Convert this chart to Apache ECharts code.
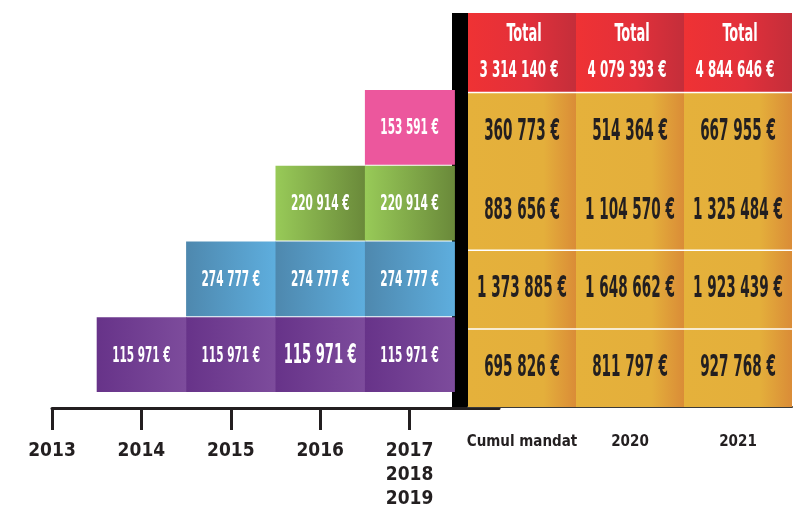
<!DOCTYPE html>
<html>
<head>
<meta charset="utf-8">
<script src="https://cdn.jsdelivr.net/npm/echarts@6/dist/echarts.min.js"></script>
<style>
  html, body { margin: 0; padding: 0; background: #fff; }
  #main { width: 804px; height: 512px; }
</style>
</head>
<body>
<div id="main"></div>
<script>
var fontFamily = "'DejaVu Sans Condensed', 'Liberation Sans', sans-serif";

// staircase on the left, one array per band (bottom band first), indexed by year
var years = ['2013', '2014', '2015', '2016', '2017\n2018\n2019', ''];
var purpleByYear = [null, 115971, 115971, 115971, 115971];
var blueByYear = [null, null, 274777, 274777, 274777];
var greenByYear = [null, null, null, 220914, 220914];
var pinkByYear = [null, null, null, null, 153591];

// table on the right
var tableColumns = ['Cumul mandat', '2020', '2021'];
var purpleTotals = [695826, 811797, 927768];
var blueTotals = [1373885, 1648662, 1923439];
var greenTotals = [883656, 1104570, 1325484];
var pinkTotals = [360773, 514364, 667955];
var grandTotals = [3314140, 4079393, 4844646];

var bandColors = [
  ['#673389', '#7d4c9c'],
  ['#4e88ae', '#5eaede'],
  ['#98ca58', '#6a893a'],
  ['#ec579d', '#ec579d']
];

function euro(v) {
  return String(v).replace(/\B(?=(\d{3})+(?!\d))/g, ' ') + ' €';
}

function hGradient(stops) {
  return new echarts.graphic.LinearGradient(0, 0, 1, 0, stops.map(function (s) {
    return { offset: s[0], color: s[1] };
  }));
}

var stairData = [];
[purpleByYear, blueByYear, greenByYear, pinkByYear].forEach(function (row, level) {
  row.forEach(function (v, i) {
    if (v != null) stairData.push([i, level, v]);
  });
});

var tableData = [];
[purpleTotals, blueTotals, greenTotals, pinkTotals, grandTotals].forEach(function (row, r) {
  row.forEach(function (v, c) {
    tableData.push([c, r, v]);
  });
});

function label(x, y, text, color, size, sx, sy) {
  return {
    type: 'text', x: x, y: y, scaleX: sx, scaleY: sy,
    style: {
      text: text, fill: color, fontFamily: fontFamily, fontWeight: 'bold',
      fontSize: size, align: 'center', verticalAlign: 'middle'
    }
  };
}

function renderStair(params, api) {
  var col = api.value(0);
  var level = api.value(1);
  var p = api.coord([col, level]);
  var size = api.size([1, 1]);
  var c = bandColors[level];
  var x = p[0] - size[0] / 2;
  var top = p[1] - size[1];
  var big = level === 0 && col === 3;
  return {
    type: 'group',
    children: [{
      type: 'rect',
      shape: { x: x, y: top + 1, width: size[0] + 0.6, height: size[1] - 1 },
      style: { fill: hGradient([[0, c[0]], [1, c[1]]]) }
    },
    label(p[0], top + size[1] / 2 + 2, euro(api.value(2)), '#fff', big ? 20 : 16, 0.73, 1.3)]
  };
}

function renderTable(params, api) {
  var col = api.value(0);
  var row = api.value(1);
  var p = api.coord([col, row]);
  var size = api.size([1, 1]);
  var x = p[0] - size[0] / 2;
  var top = p[1] - size[1];
  // white rules only above the purple, blue and pink rows
  var gap = (row === 0 || row === 1 || row === 3) ? 1.5 : -1;
  if (row === 4) {
    return {
      type: 'group',
      children: [{
        type: 'rect',
        shape: { x: x, y: top, width: size[0], height: size[1] },
        style: { fill: hGradient([[0, '#ef3234'], [0.55, '#e2303a'], [1, '#c42e3a']]) }
      },
      label(p[0] + 2, top + 22, 'Total', '#fff', 18, 0.8, 1.35),
      label(p[0] - 3, top + 58, euro(api.value(2)), '#fff', 17, 0.78, 1.35)]
    };
  }
  return {
    type: 'group',
    children: [{
      type: 'rect',
      shape: { x: x, y: top + gap, width: size[0], height: size[1] - gap },
      style: { fill: hGradient([[0, '#e5b13b'], [0.7, '#e4af3b'], [1, '#da8c37']]) }
    },
    label(p[0], top + size[1] / 2 + 1, euro(api.value(2)), '#231f20', 21, 0.72, 1.4)]
  };
}

var myChart = echarts.init(document.getElementById('main'));

var option = {
  animation: false,
  backgroundColor: '#fff',
  grid: [
    { left: 52, top: 89, width: 447, height: 303 },
    { left: 468, top: 13, width: 324, height: 394 }
  ],
  xAxis: [{
    gridIndex: 0,
    type: 'category',
    data: years,
    boundaryGap: false,
    offset: 16,
    axisLine: { onZero: false, lineStyle: { color: '#231f20', width: 3 } },
    axisTick: {
      length: 22,
      interval: function (i) { return i < 5; },
      lineStyle: { color: '#231f20', width: 3 }
    },
    axisLabel: {
      interval: 0,
      margin: 31,
      color: '#231f20',
      fontFamily: fontFamily,
      fontWeight: 'bold',
      fontSize: 19,
      lineHeight: 24
    },
    splitLine: { show: false }
  }, {
    gridIndex: 1,
    type: 'category',
    data: tableColumns,
    axisLine: { onZero: false, lineStyle: { color: '#3a3a3a', width: 2 } },
    axisTick: { show: false },
    axisLabel: {
      interval: 0,
      margin: 28,
      color: '#231f20',
      fontFamily: fontFamily,
      fontWeight: 'bold',
      fontSize: 15
    },
    splitLine: { show: false }
  }],
  yAxis: [{
    gridIndex: 0,
    type: 'value',
    min: 0,
    max: 4,
    show: false
  }, {
    gridIndex: 1,
    type: 'value',
    min: 0,
    max: 5,
    position: 'left',
    offset: 8,
    axisLine: { show: true, onZero: false, lineStyle: { color: '#000', width: 16, cap: 'butt' } },
    axisTick: { show: false },
    axisLabel: { show: false },
    splitLine: { show: false }
  }],
  series: [{
    type: 'custom',
    xAxisIndex: 0,
    yAxisIndex: 0,
    renderItem: renderStair,
    data: stairData
  }, {
    type: 'custom',
    xAxisIndex: 1,
    yAxisIndex: 1,
    renderItem: renderTable,
    data: tableData
  }]
};

myChart.setOption(option);
</script>
</body>
</html>
